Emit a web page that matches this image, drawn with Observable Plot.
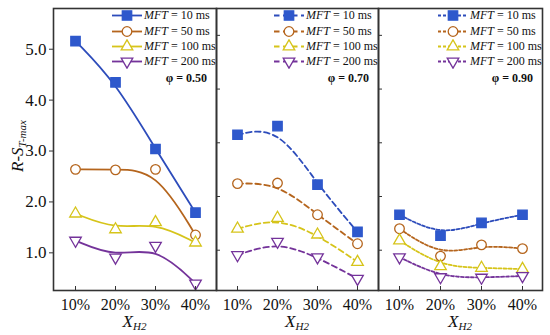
<!DOCTYPE html>
<html><head><meta charset="utf-8">
<script src="https://cdn.jsdelivr.net/npm/d3@7"></script>
<script src="https://cdn.jsdelivr.net/npm/@observablehq/plot@0.6"></script>
<style>
body{margin:0;background:#fff;}
#chart{position:relative;width:550px;height:335px;font-family:"Liberation Serif","Times New Roman",serif;color:#111;overflow:hidden;}
#chart svg.panel{position:absolute;top:0;overflow:visible;}
.legend{position:absolute;font-size:12px;}
.legend .row{display:flex;align-items:center;height:15.2px;white-space:nowrap;}
.legend .row svg{display:block;margin-right:2px;}
.phi{position:absolute;font-size:12px;font-weight:bold;white-space:nowrap;transform:translate(-100%,-50%);}
.xtitle{position:absolute;font-size:17px;line-height:1;font-style:italic;transform:translateX(-50%);white-space:nowrap;}
.xtitle sub{font-size:11px;line-height:1;vertical-align:-3px;}
.ytitle{position:absolute;font-size:17px;line-height:1;font-style:italic;white-space:nowrap;transform:translate(-50%,-50%) rotate(-90deg);}
.ytitle sub{font-size:11px;line-height:1;vertical-align:-3px;}
</style></head><body><div id="chart"></div>
<script>
// ---- data ----
const xLabels = ["10%", "20%", "30%", "40%"];
const mftValues = [10, 50, 100, 200];
const phiLabels = ["0.50", "0.70", "0.90"];

// φ = 0.50
const phi050_mft10  = [5.16, 4.35, 3.04, 1.79];
const phi050_mft50  = [2.64, 2.63, 2.64, 1.35];
const phi050_mft100 = [1.77, 1.46, 1.60, 1.20];
const phi050_mft200 = [1.24, 0.91, 1.14, 0.40];
// φ = 0.70
const phi070_mft10  = [3.15, 3.31, 2.22, 1.34];
const phi070_mft50  = [2.24, 2.25, 1.66, 1.12];
const phi070_mft100 = [1.40, 1.60, 1.29, 0.78];
const phi070_mft200 = [0.91, 1.16, 0.87, 0.47];
// φ = 0.90
const phi090_mft10  = [1.66, 1.27, 1.51, 1.66];
const phi090_mft50  = [1.40, 0.89, 1.10, 1.03];
const phi090_mft100 = [1.18, 0.70, 0.67, 0.65];
const phi090_mft200 = [0.87, 0.50, 0.49, 0.52];

const yTicks = [1, 2, 3, 4, 5];

// ---- style ----
const lineColors = ["#2d4cbb", "#b5651d", "#d6c41a", "#74339a"];
const fillColors = ["#2e58cc", "#ffffff", "#ffffff", "#ffffff"];
const triangleDown = {
  draw(context, size) {
    const s3 = Math.sqrt(3);
    const y = -Math.sqrt(size / (s3 * 3));
    context.moveTo(0, -y * 2);
    context.lineTo(-s3 * y, y);
    context.lineTo(s3 * y, y);
    context.closePath();
  }
};
const symbols = ["square", "circle", "triangle", triangleDown];
const d3Symbols = [d3.symbolSquare, d3.symbolCircle, d3.symbolTriangle, triangleDown];
const radii = [5.3, 4.8, 4.3, 4.3];
const dashes = [null, "5.5,3.5", "3,2"];

const panelData = [
  [phi050_mft10, phi050_mft50, phi050_mft100, phi050_mft200],
  [phi070_mft10, phi070_mft50, phi070_mft100, phi070_mft200],
  [phi090_mft10, phi090_mft50, phi090_mft100, phi090_mft200]
];
const layout = [
  {left: 0,   width: 216, ml: 53, mr: 0, ydom: [0.26, 5.8], labels: true},
  {left: 216, width: 162, ml: 0,  mr: 0, ydom: [0.25, 5.5], labels: false},
  {left: 378, width: 172, ml: 0,  mr: 8, ydom: [0.25, 5.5], labels: false}
];
const H = 335, MT = 8, MB = 45;
const chart = document.getElementById("chart");

panelData.forEach((series, pi) => {
  const L = layout[pi];
  const rows = [];
  series.forEach((vals, si) => vals.forEach((v, i) => rows.push({x: xLabels[i], y: v, s: si})));
  const marks = [];
  series.forEach((vals, si) => {
    marks.push(Plot.line(rows.filter(r => r.s === si), {
      x: "x", y: "y", curve: "basis", stroke: lineColors[si], strokeWidth: 1.8,
      strokeDasharray: dashes[pi]
    }));
  });
  series.forEach((vals, si) => {
    marks.push(Plot.dot(rows.filter(r => r.s === si), {
      x: "x", y: "y", symbol: symbols[si], r: radii[si],
      fill: fillColors[si], stroke: si === 0 ? fillColors[0] : lineColors[si], strokeWidth: 1.3
    }));
  });
  marks.push(Plot.frame({stroke: "#333", strokeWidth: 1.6}));
  // x axis: inward ticks + labels
  marks.push(Plot.axisX({anchor: "bottom", label: null, tickSize: -4, tickFormat: () => "", stroke: "#333"}));
  marks.push(Plot.axisX({anchor: "bottom", label: null, tickSize: 0, tickPadding: 8, fontSize: 16, fill: "#111"}));
  if (L.labels) {
    marks.push(Plot.axisY({anchor: "left", label: null, ticks: yTicks, tickSize: 4, tickPadding: 3,
      tickFormat: d3.format(".1f"), fontSize: 17, fill: "#111", stroke: "#333"}));
  } else {
    marks.push(Plot.axisY({anchor: "left", label: null, ticks: yTicks, tickSize: -4, tickFormat: () => "", stroke: "#333"}));
  }
  const svg = Plot.plot({
    width: L.width, height: H,
    marginLeft: L.ml, marginRight: L.mr, marginTop: MT, marginBottom: MB,
    x: {type: "point", domain: xLabels, padding: 0.5, axis: null, label: null},
    y: {domain: L.ydom, axis: null, label: null},
    style: {background: "transparent", overflow: "visible", fontFamily: "'Liberation Serif','Times New Roman',serif"},
    marks
  });
  svg.classList.add("panel");
  svg.style.left = L.left + "px";
  svg.style.position = "absolute";
  chart.appendChild(svg);

  const panelRight = L.left + L.width - L.mr;
  const panelCenter = L.left + L.ml + (L.width - L.ml - L.mr) / 2;

  // legend
  const leg = document.createElement("div");
  leg.className = "legend";
  leg.style.left = (panelRight - 104) + "px";
  leg.style.top = "8.4px";
  mftValues.forEach((m, si) => {
    const row = document.createElement("div");
    row.className = "row";
    const path = d3.symbol(d3Symbols[si], Math.PI * radii[si] * radii[si])();
    row.innerHTML =
      `<svg width="30" height="15"><line x1="0" x2="30" y1="7.5" y2="7.5" stroke="${lineColors[si]}" stroke-width="1.8"` +
      (dashes[pi] ? ` stroke-dasharray="${dashes[pi]}"` : "") + `/>` +
      `<path d="${path}" transform="translate(15,7.5)" fill="${fillColors[si]}" stroke="${si === 0 ? fillColors[0] : lineColors[si]}" stroke-width="1.3"/></svg>` +
      `<span><i>MFT</i> = ${m} ms</span>`;
    leg.appendChild(row);
  });
  chart.appendChild(leg);

  const phi = document.createElement("div");
  phi.className = "phi";
  phi.style.left = (panelRight - 9) + "px";
  phi.style.top = "78px";
  phi.textContent = "φ = " + phiLabels[pi];
  chart.appendChild(phi);

  const xt = document.createElement("div");
  xt.className = "xtitle";
  xt.style.left = panelCenter + "px";
  xt.style.top = "313px";
  xt.innerHTML = "X<sub>H2</sub>";
  chart.appendChild(xt);
});

const yt = document.createElement("div");
yt.className = "ytitle";
yt.style.left = "18px";
yt.style.top = "146px";
yt.innerHTML = "R-S<sub>T-max</sub>";
chart.appendChild(yt);
</script>
</body></html>
